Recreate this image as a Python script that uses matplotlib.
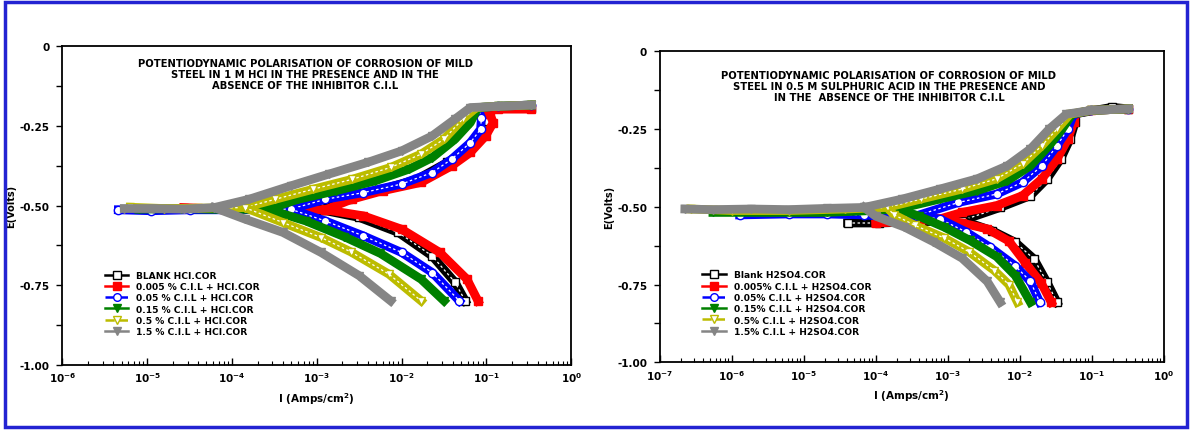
"""
Potentiodynamic polarisation (Tafel) curves of mild steel in HCl and H2SO4,
with and without the inhibitor C.I.L - two panels side by side.
"""

import numpy as np
import matplotlib.pyplot as plt
from matplotlib.lines import Line2D
from matplotlib.patches import Rectangle

plt.rcParams["font.family"] = "DejaVu Sans"
plt.rcParams["font.weight"] = "bold"

# ---------------- data: (log10 I, E) ----------------
# left panel, 1 M HCl
hcl_labels = ["BLANK HCI.COR", "0.005 % C.I.L + HCI.COR", "0.05 % C.I.L + HCI.COR",
              "0.15 % C.I.L + HCI.COR", "0.5 % C.I.L + HCI.COR", "1.5 % C.I.L + HCI.COR"]

hcl_blank_an = [(-4.00, -0.513), (-3.40, -0.512), (-2.95, -0.513), (-2.63, -0.480), (-2.22, -0.448),
                (-1.82, -0.417), (-1.46, -0.364), (-1.23, -0.323), (-1.05, -0.270), (-0.98, -0.234),
                (-1.10, -0.192), (-0.87, -0.192), (-0.48, -0.192)]
hcl_blank_ca = [(-2.95, -0.513), (-2.50, -0.537), (-2.04, -0.584), (-1.64, -0.658), (-1.37, -0.741),
                (-1.25, -0.799)]
hcl_005_an = [(-4.57, -0.506), (-4.10, -0.511), (-3.60, -0.513), (-2.90, -0.513), (-2.59, -0.480),
              (-2.22, -0.453), (-1.77, -0.427), (-1.41, -0.375), (-1.19, -0.333), (-1.01, -0.281),
              (-0.92, -0.239), (-0.96, -0.213), (-1.10, -0.192), (-0.87, -0.197), (-0.48, -0.197)]
hcl_005_ca = [(-2.90, -0.513), (-2.45, -0.532), (-2.00, -0.574), (-1.55, -0.647), (-1.23, -0.731),
              (-1.10, -0.799)]
hcl_05_an = [(-5.34, -0.513), (-4.95, -0.516), (-4.50, -0.513), (-4.00, -0.513), (-3.31, -0.511),
             (-2.90, -0.480), (-2.45, -0.459), (-2.00, -0.432), (-1.64, -0.396), (-1.41, -0.354),
             (-1.19, -0.302), (-1.07, -0.260), (-1.06, -0.225), (-1.10, -0.192), (-0.87, -0.188),
             (-0.47, -0.184)]
hcl_05_ca = [(-3.31, -0.511), (-2.90, -0.548), (-2.45, -0.595), (-2.00, -0.647), (-1.64, -0.710),
             (-1.32, -0.799)]
hcl_15_an = [(-5.10, -0.511), (-4.60, -0.509), (-4.10, -0.512), (-3.58, -0.511), (-3.22, -0.480),
             (-2.77, -0.453), (-2.31, -0.422), (-1.91, -0.385), (-1.64, -0.349), (-1.37, -0.291),
             (-1.19, -0.239), (-1.10, -0.192), (-0.87, -0.188), (-0.47, -0.184)]
hcl_15_ca = [(-3.58, -0.511), (-3.13, -0.548), (-2.68, -0.597), (-2.25, -0.650), (-1.77, -0.731),
             (-1.50, -0.799)]
hcl_5_an = [(-5.20, -0.505), (-4.80, -0.509), (-4.40, -0.508), (-3.85, -0.506), (-3.49, -0.480),
            (-3.04, -0.448), (-2.58, -0.417), (-2.13, -0.380), (-1.77, -0.338), (-1.50, -0.291),
            (-1.28, -0.228), (-1.12, -0.192), (-0.87, -0.188), (-0.47, -0.184)]
hcl_5_ca = [(-3.85, -0.506), (-3.40, -0.553), (-2.95, -0.600), (-2.60, -0.645), (-2.15, -0.715),
            (-1.77, -0.799)]
hcl_15b_an = [(-5.27, -0.509), (-4.93, -0.509), (-4.57, -0.511), (-4.21, -0.506), (-3.80, -0.480),
              (-3.31, -0.438), (-2.86, -0.401), (-2.40, -0.364), (-2.00, -0.328), (-1.64, -0.281),
              (-1.37, -0.228), (-1.19, -0.192), (-0.87, -0.188), (-0.47, -0.184)]
hcl_15b_ca = [(-4.21, -0.506), (-3.85, -0.542), (-3.40, -0.584), (-2.95, -0.647), (-2.50, -0.720),
              (-2.13, -0.799)]

# right panel, 0.5 M H2SO4
h2so4_labels = ["Blank H2SO4.COR", "0.005% C.I.L + H2SO4.COR", "0.05% C.I.L + H2SO4.COR",
                "0.15% C.I.L + H2SO4.COR", "0.5% C.I.L + H2SO4.COR", "1.5% C.I.L + H2SO4.COR"]

h2so4_blank_an = [(-4.39, -0.552), (-3.95, -0.552), (-3.37, -0.548), (-2.80, -0.544), (-2.27, -0.502),
                  (-1.85, -0.464), (-1.62, -0.410), (-1.43, -0.346), (-1.30, -0.282), (-1.23, -0.228),
                  (-1.25, -0.202), (-0.72, -0.180), (-0.49, -0.185)]
h2so4_blank_ca = [(-2.80, -0.544), (-2.38, -0.577), (-2.06, -0.614), (-1.80, -0.668), (-1.62, -0.743),
                  (-1.48, -0.807)]
h2so4_005_an = [(-4.00, -0.552), (-3.63, -0.548), (-3.11, -0.539), (-2.80, -0.518), (-2.32, -0.496),
                (-1.96, -0.464), (-1.69, -0.410), (-1.48, -0.346), (-1.33, -0.282), (-1.25, -0.228),
                (-1.25, -0.202), (-1.01, -0.190), (-0.49, -0.185)]
h2so4_005_ca = [(-3.11, -0.539), (-2.80, -0.552), (-2.45, -0.571), (-2.15, -0.610), (-1.92, -0.680),
                (-1.70, -0.745), (-1.56, -0.807)]
h2so4_05_an = [(-5.89, -0.526), (-5.21, -0.523), (-4.68, -0.523), (-4.16, -0.526), (-3.74, -0.534),
               (-3.42, -0.528), (-2.85, -0.486), (-2.32, -0.459), (-1.96, -0.421), (-1.69, -0.368),
               (-1.48, -0.303), (-1.33, -0.250), (-1.25, -0.202), (-1.01, -0.190), (-0.49, -0.185)]
h2so4_05_ca = [(-3.42, -0.528), (-3.10, -0.540), (-2.75, -0.580), (-2.41, -0.630), (-2.06, -0.690),
               (-1.85, -0.740), (-1.72, -0.807)]
h2so4_15_an = [(-6.26, -0.518), (-5.47, -0.518), (-4.68, -0.518), (-4.05, -0.512), (-3.69, -0.507),
               (-3.11, -0.475), (-2.59, -0.448), (-2.17, -0.416), (-1.85, -0.368), (-1.59, -0.303),
               (-1.41, -0.250), (-1.27, -0.202), (-1.01, -0.190), (-0.49, -0.185)]
h2so4_15_ca = [(-3.69, -0.507), (-3.40, -0.530), (-3.05, -0.565), (-2.69, -0.608), (-2.32, -0.660),
               (-2.06, -0.721), (-1.85, -0.807)]
h2so4_5_an = [(-6.57, -0.507), (-5.99, -0.512), (-5.21, -0.512), (-4.42, -0.507), (-3.84, -0.502),
              (-3.37, -0.475), (-2.80, -0.443), (-2.32, -0.410), (-1.96, -0.362), (-1.69, -0.303),
              (-1.48, -0.250), (-1.30, -0.202), (-1.01, -0.190), (-0.49, -0.185)]
h2so4_5_ca = [(-3.84, -0.502), (-3.75, -0.525), (-3.45, -0.560), (-3.05, -0.600), (-2.70, -0.645),
              (-2.35, -0.705), (-2.15, -0.750), (-2.03, -0.807)]
h2so4_15b_an = [(-6.65, -0.507), (-6.26, -0.509), (-5.73, -0.507), (-5.21, -0.509), (-4.68, -0.505),
                (-4.16, -0.502), (-3.63, -0.475), (-3.11, -0.443), (-2.59, -0.410), (-2.17, -0.368),
                (-1.85, -0.314), (-1.59, -0.250), (-1.35, -0.202), (-1.01, -0.190), (-0.49, -0.185)]
h2so4_15b_ca = [(-4.16, -0.502), (-4.00, -0.530), (-3.60, -0.565), (-3.20, -0.612), (-2.80, -0.665),
                (-2.45, -0.740), (-2.27, -0.807)]

hcl_branches = [(hcl_blank_an, hcl_blank_ca), (hcl_005_an, hcl_005_ca), (hcl_05_an, hcl_05_ca),
                (hcl_15_an, hcl_15_ca), (hcl_5_an, hcl_5_ca), (hcl_15b_an, hcl_15b_ca)]
h2so4_branches = [(h2so4_blank_an, h2so4_blank_ca), (h2so4_005_an, h2so4_005_ca),
                  (h2so4_05_an, h2so4_05_ca), (h2so4_15_an, h2so4_15_ca),
                  (h2so4_5_an, h2so4_5_ca), (h2so4_15b_an, h2so4_15b_ca)]

hcl_title = ("POTENTIODYNAMIC POLARISATION OF CORROSION OF MILD\n"
             "STEEL IN 1 M HCl IN THE PRESENCE AND IN THE\n"
             "ABSENCE OF THE INHIBITOR C.I.L")
h2so4_title = ("POTENTIODYNAMIC POLARISATION OF CORROSION OF MILD\n"
               "STEEL IN 0.5 M SULPHURIC ACID IN THE PRESENCE AND\n"
               "IN THE  ABSENCE OF THE INHIBITOR C.I.L")

# ---------------- styles ----------------
COLORS = ["black", "#ff0000", "#0000ff", "#008000", "#bcbc00", "#858585"]
MARKERS = ["s", "s", "o", "v", "v", "v"]
OPEN = [True, False, True, False, True, False]
LSTYLE = ["-", "-", "--", "-", "--", "-"]


def draw_branch(ax, pts, i):
    x = 10 ** np.array([p[0] for p in pts])
    y = np.array([p[1] for p in pts])
    c = COLORS[i]
    ax.plot(x, y, color=c, lw=6.3, solid_joinstyle="round", zorder=2 + i)
    ax.plot(x, y, ls="none", marker=MARKERS[i], ms=6, mec=c,
            mfc="white" if OPEN[i] else c, mew=1, zorder=2 + i)
    if OPEN[i]:
        ax.plot(x, y, color="white", lw=0.9, ls=(0, (2, 2)), zorder=2 + i)


def setup_panel(ax, branches, labels, title, xmin_exp, title_xy, legend_anchor, ylab_x, xlab_y):
    for i, (an, ca) in enumerate(branches):
        draw_branch(ax, an, i)
        draw_branch(ax, ca, i)

    ax.set_xscale("log")
    ax.set_xlim(10.0 ** xmin_exp, 1)
    ax.set_ylim(-1.0, 0)

    exps = list(range(xmin_exp, 1))
    ax.set_xticks([10.0 ** e for e in exps],
                  [r"$\mathbf{10^{%d}}$" % e for e in exps], fontsize=7.5)
    ax.set_xticks([m * 10.0 ** e for e in exps[:-1] for m in range(2, 10)], minor=True)
    ax.tick_params(axis="x", which="major", direction="in", length=5, width=1, pad=4)
    ax.tick_params(axis="x", which="minor", direction="in", length=3, width=0.8)

    ax.set_yticks([0, -0.25, -0.5, -0.75, -1.0], ["0", "-0.25", "-0.50", "-0.75", "-1.00"],
                  fontsize=7.5, fontweight="bold")
    ax.set_yticks([-0.125, -0.375, -0.625, -0.875], minor=True)
    ax.tick_params(axis="y", which="both", direction="out", length=4, width=1, pad=5)

    for s in ax.spines.values():
        s.set_linewidth(1.3)

    ax.set_ylabel("E(Volts)", fontsize=7, fontweight="bold")
    ax.yaxis.set_label_coords(ylab_x, 0.5)
    ax.set_xlabel(r"I (Amps/cm$^\mathbf{2}$)", fontsize=7.5, fontweight="bold")
    ax.xaxis.set_label_coords(0.5, xlab_y)

    ax.text(title_xy[0], title_xy[1], title, transform=ax.transAxes, ha="center", va="center",
            fontsize=7.2, fontweight="bold", linespacing=1.15, multialignment="center")

    handles = [Line2D([], [], color=COLORS[i], ls=LSTYLE[i], lw=1.8, marker=MARKERS[i], ms=5.5,
                      mec=COLORS[i], mfc="white" if OPEN[i] else COLORS[i])
               for i in range(len(labels))]
    leg = ax.legend(handles, labels, loc="lower left", bbox_to_anchor=legend_anchor, frameon=False,
                    fontsize=6.6, handlelength=2.6, handletextpad=0.8, labelspacing=0.25,
                    borderaxespad=0, borderpad=0)
    for t in leg.get_texts():
        t.set_fontweight("bold")


fig = plt.figure(figsize=(11.92, 4.31), dpi=100)
ax1 = fig.add_axes([0.0523, 0.151, 0.427, 0.739])
ax2 = fig.add_axes([0.5534, 0.157, 0.4228, 0.7216])

setup_panel(ax1, hcl_branches, hcl_labels, hcl_title, -6, (0.477, 0.913), (0.083, 0.09), -0.09, -0.08)
setup_panel(ax2, h2so4_branches, h2so4_labels, h2so4_title, -7, (0.455, 0.888), (0.085, 0.085), -0.09, -0.08)

fig.patches.append(Rectangle((0.004, 0.007), 0.992, 0.985, transform=fig.transFigure, fill=False,
                             ec="#2323d2", lw=2.5))

fig.savefig("out.png", dpi=100)
